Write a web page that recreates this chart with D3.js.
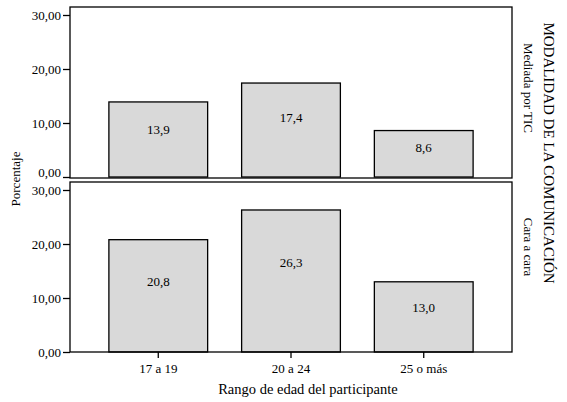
<!DOCTYPE html>
<html>
<head>
<meta charset="utf-8">
<script src="https://cdn.jsdelivr.net/npm/d3@7"></script>
<style>
  body { margin: 0; background: #fff; }
  svg { display: block; }
  svg text { font-family: "Liberation Serif", "Times New Roman", Times, "DejaVu Serif", serif; fill: #000; }
</style>
</head>
<body>
<svg id="chart" width="567" height="402"></svg>
<script>
// data
const categories = ['17 a 19', '20 a 24', '25 o más'];
const panelNames = ['Mediada por TIC', 'Cara a cara'];
const mediadaTIC = [13.9, 17.4, 8.6];
const caraACara = [20.8, 26.3, 13.0];
const yTicks = [0, 10, 20, 30];

const seriesByPanel = [mediadaTIC, caraACara];

const svg = d3.select('#chart');
const left = 70, right = 512;

// comma decimal, as in the original
const es = d3.formatLocale({ decimal: ',', thousands: '.', grouping: [3], currency: ['', ' €'] });
const fmtTick = es.format('.2f');
const fmtVal = es.format('.1f');

const x = d3.scaleBand()
    .domain(categories)
    .range([left, right])
    .paddingInner(0.256)
    .paddingOuter(0.293);

// each panel: frame top / bottom and where the 0 and 30 ticks sit
const panels = [
    { top: 7, bottom: 178, y0: 177, y30: 15 },
    { top: 182, bottom: 352, y0: 352, y30: 190 }
];

panels.forEach((p, i) => {
    const y = d3.scaleLinear().domain([0, 30]).range([p.y0, p.y30]);
    const g = svg.append('g');

    // bars
    g.selectAll('rect.bar')
        .data(seriesByPanel[i])
        .join('rect')
            .attr('class', 'bar')
            .attr('x', (d, j) => x(categories[j]))
            .attr('width', x.bandwidth())
            .attr('y', d => y(d))
            .attr('height', d => y(0) - y(d))
            .attr('fill', '#d9d9d9')
            .attr('stroke', '#000')
            .attr('stroke-width', 1.3);

    // value labels
    g.selectAll('text.val')
        .data(seriesByPanel[i])
        .join('text')
            .attr('class', 'val')
            .attr('x', (d, j) => x(categories[j]) + x.bandwidth() / 2)
            .attr('y', d => y(d * 0.63) + 4.5)
            .attr('text-anchor', 'middle')
            .style('font-size', '13px')
            .text(d => fmtVal(d));

    // frame
    g.append('rect')
        .attr('x', left)
        .attr('y', p.top)
        .attr('width', right - left)
        .attr('height', p.bottom - p.top)
        .attr('fill', 'none')
        .attr('stroke', '#000')
        .attr('stroke-width', 1.3);

    // y axis
    const yAxis = d3.axisLeft(y).tickValues(yTicks).tickSize(7).tickPadding(2).tickFormat(fmtTick);
    const ya = g.append('g')
        .attr('transform', `translate(${left},0)`)
        .call(yAxis);
    ya.select('.domain').remove();
    ya.selectAll('line').attr('stroke-width', 1.3);
    ya.selectAll('text')
        .style('font-size', '13px');
    // upper panel: its 0,00 sits a little higher so it clears the 30,00 below
    if (i === 0) {
        ya.selectAll('.tick text').filter(d => d === 0).attr('dy', '-0.05em');
    }
});

// x axis under the bottom panel
const xAxis = d3.axisBottom(x).tickSize(6).tickPadding(6).tickSizeOuter(0);
const xa = svg.append('g')
    .attr('transform', `translate(0,${panels[1].bottom})`)
    .call(xAxis);
xa.select('.domain').remove();
xa.selectAll('line').attr('stroke-width', 1.3);
xa.selectAll('text')
    .style('font-size', '13px');

// axis titles
svg.append('text')
    .attr('x', 308)
    .attr('y', 394)
    .attr('text-anchor', 'middle')
    .style('font-size', '14.5px')
    .text('Rango de edad del participante');

svg.append('text')
    .attr('transform', 'translate(20,179) rotate(-90)')
    .attr('text-anchor', 'middle')
    .style('font-size', '13px')
    .text('Porcentaje');

// panel labels on the right
svg.append('text')
    .attr('transform', 'translate(543.5,153) rotate(90)')
    .attr('text-anchor', 'middle')
    .style('font-size', '15px')
    .text('MODALIDAD DE LA COMUNICACIÓN');

const panelLabelY = [88, 247];
panelNames.forEach((name, i) => {
    svg.append('text')
        .attr('transform', `translate(524,${panelLabelY[i]}) rotate(90)`)
        .attr('text-anchor', 'middle')
        .style('font-size', '13px')
        .text(name);
});
</script>
</body>
</html>
